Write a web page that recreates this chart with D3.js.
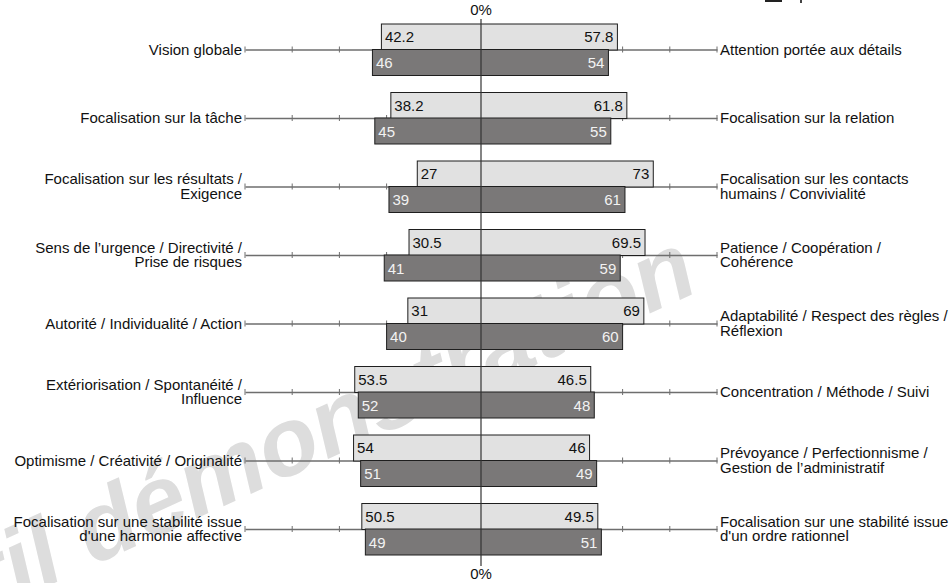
<!DOCTYPE html>
<html>
<head>
<meta charset="utf-8">
<script src="https://cdn.jsdelivr.net/npm/d3@7"></script>
<style>
  body { margin: 0; background: #fff; }
  svg { display: block; font-family: "Liberation Sans", Arial, sans-serif; }
</style>
</head>
<body>
<div id="chart"></div>
<script>
// left / right trait labels (one entry per row, lines split with \n)
const leftLabels = [
  "Vision globale",
  "Focalisation sur la tâche",
  "Focalisation sur les résultats /\nExigence",
  "Sens de l’urgence / Directivité /\nPrise de risques",
  "Autorité / Individualité / Action",
  "Extériorisation / Spontanéité /\nInfluence",
  "Optimisme / Créativité / Originalité",
  "Focalisation sur une stabilité issue\nd'une harmonie affective"
]
const rightLabels = [
  "Attention portée aux détails",
  "Focalisation sur la relation",
  "Focalisation sur les contacts\nhumains / Convivialité",
  "Patience / Coopération /\nCohérence",
  "Adaptabilité / Respect des règles /\nRéflexion",
  "Concentration / Méthode / Suivi",
  "Prévoyance / Perfectionnisme /\nGestion de l’administratif",
  "Focalisation sur une stabilité issue\nd'un ordre rationnel"
]

// light bars (top) and dark bars (bottom), left and right shares
const lightLeft = [42.2, 38.2, 27, 30.5, 31, 53.5, 54, 50.5]
const lightRight = [57.8, 61.8, 73, 69.5, 69, 46.5, 46, 49.5]
const darkLeft = [46, 45, 39, 41, 40, 52, 51, 49]
const darkRight = [54, 55, 61, 59, 60, 48, 49, 51]

const axisTicks = [-100, -80, -60, -40, -20, 0, 20, 40, 60, 80, 100]

const W = 949, H = 583
const FS = 15
const svg = d3.select("#chart").append("svg")
  .attr("width", W).attr("height", H)

// scales
const x = d3.scaleLinear().domain([-100, 100]).range([245, 717])
const y = d3.scalePoint().domain(d3.range(leftLabels.length)).range([49.5, 529])
const barH = 26

// watermark: "pro" runs off the left edge, "fil démonstration" fills the diagonal
const wm = svg.append("text")
  .attr("font-size", 100)
  .attr("font-weight", "bold")
  .attr("font-style", "italic")
  .attr("fill", "#dddddd")
  .text("fil démonstration")
const start = [-10, 612], end = [702, 290]
const len = Math.hypot(end[0] - start[0], end[1] - start[1])
const wmSize = 100 * len / wm.node().getComputedTextLength()
const ang = Math.atan2(end[1] - start[1], end[0] - start[0]) * 180 / Math.PI
wm.attr("font-size", wmSize)
  .attr("text-anchor", "end")
  .attr("transform", "translate(" + end[0] + "," + end[1] + ") rotate(" + ang + ")")
  .text("profil démonstration")

// small cut-off mark at top right
svg.append("rect").attr("x", 765).attr("y", 0).attr("width", 17).attr("height", 2).attr("fill", "#222")
svg.append("rect").attr("x", 800).attr("y", 0).attr("width", 2).attr("height", 3).attr("fill", "#444")

const rows = leftLabels.map((l, i) => ({
  i, l, r: rightLabels[i],
  ll: lightLeft[i], lr: lightRight[i], dl: darkLeft[i], dr: darkRight[i]
}))

const row = svg.append("g").selectAll("g")
  .data(rows)
  .enter().append("g")
  .attr("transform", d => "translate(0," + y(d.i) + ")")

// axis line with ticks
row.each(function (d) {
  const g = d3.select(this)
  g.call(d3.axisBottom(x).tickValues(axisTicks).tickSize(0).tickFormat(""))
    .call(a => a.select(".domain").attr("stroke", "#6e6e6e").attr("stroke-width", 1.3))
  g.selectAll(".tickmark")
    .data(axisTicks.filter(t => t !== 0))
    .enter().append("line")
    .attr("x1", t => x(t)).attr("x2", t => x(t))
    .attr("y1", -3).attr("y2", 3)
    .attr("stroke", "#6e6e6e").attr("stroke-width", 1)
})

// labels
function multiline(sel, key, xPos, anchor) {
  sel.append("text")
    .attr("x", xPos)
    .attr("text-anchor", anchor)
    .attr("font-size", FS)
    .attr("fill", "#111")
    .each(function (d) {
      const lines = d[key].split("\n")
      const t = d3.select(this)
      const y0 = lines.length === 1 ? 0 : -7.5
      lines.forEach((ln, k) => {
        t.append("tspan").attr("x", xPos).attr("y", y0 + k * 14.5)
          .attr("dy", "0.35em").text(ln)
      })
    })
}
multiline(row, "l", 242, "end")
multiline(row, "r", 720, "start")

// light bars
row.append("rect")
  .attr("x", d => x(-d.ll)).attr("y", -barH + 0.5)
  .attr("width", d => x(d.lr) - x(-d.ll)).attr("height", barH)
  .attr("fill", "#e1e1e1").attr("stroke", "#1e1e1e").attr("stroke-width", 1)

// dark bars
row.append("rect")
  .attr("x", d => x(-d.dl)).attr("y", 0)
  .attr("width", d => x(d.dr) - x(-d.dl)).attr("height", barH)
  .attr("fill", "#7a7878").attr("stroke", "#1e1e1e").attr("stroke-width", 1)

// values
const val = (sel, key, xf, anchor, yy, col) => sel.append("text")
  .attr("x", xf).attr("y", yy).attr("dy", "0.35em")
  .attr("text-anchor", anchor).attr("font-size", FS).attr("fill", col)
  .text(d => d[key])
val(row, "ll", d => x(-d.ll) + 3.5, "start", -12.5, "#111")
val(row, "lr", d => x(d.lr) - 4, "end", -12.5, "#111")
val(row, "dl", d => x(-d.dl) + 3.5, "start", 13.5, "#f2f2f2")
val(row, "dr", d => x(d.dr) - 4, "end", 13.5, "#f2f2f2")

// zero line and labels
svg.append("line")
  .attr("x1", x(0)).attr("x2", x(0)).attr("y1", 19).attr("y2", 566)
  .attr("stroke", "#333").attr("stroke-width", 1.2)
svg.append("text").attr("x", x(0)).attr("y", 10).attr("dy", "0.35em")
  .attr("text-anchor", "middle").attr("font-size", FS).attr("fill", "#111").text("0%")
svg.append("text").attr("x", x(0)).attr("y", 574).attr("dy", "0.35em")
  .attr("text-anchor", "middle").attr("font-size", FS).attr("fill", "#111").text("0%")
</script>
</body>
</html>
